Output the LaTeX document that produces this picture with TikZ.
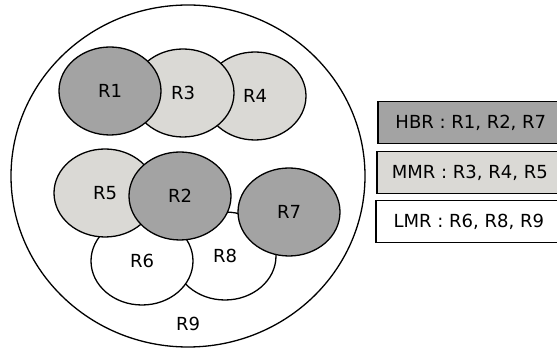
\documentclass[tikz,border=0pt]{standalone}
\usepackage{fontspec}
\setmainfont{DejaVu Sans}
\usepackage{tikz}
\usetikzlibrary{shapes.geometric}

\definecolor{high}{RGB}{163,163,163}
\definecolor{mid}{RGB}{218,217,213}

\begin{document}
\begin{tikzpicture}[x=1pt, y=-1pt,
    every node/.style={font=\fontsize{18}{20}\selectfont},
    region/.style={ellipse, draw, line width=1.3pt, inner sep=0pt,
        minimum width=102pt, minimum height=88pt},
    legend/.style={rectangle, draw, line width=1.6pt, anchor=west,
        minimum width=186pt, minimum height=42pt,
        font=\fontsize{18}{20}\selectfont}]
    \useasboundingbox (0,0) rectangle (557,352);
    % outer region
    \node[region, minimum width=354pt, minimum height=342pt] (r9) at (188,176) {};
    \node (r9label) at (188,324) {R9};
    % upper row
    \node[region, fill=mid] (r4) at (255,96) {R4};
    \node[region, fill=mid] (r3) at (183,93) {R3};
    \node[region, fill=high] (r1) at (110,91) {R1};
    % lower group
    \node[region, fill=white] (r8) at (225,256) {R8};
    \node[region, fill=white] (r6) at (142,261) {R6};
    \node[region, fill=mid] (r5) at (105,193) {R5};
    \node[region, fill=high] (r2) at (180,196) {R2};
    \node[region, fill=high] (r7) at (289,212) {R7};
    % legend
    \node[legend, fill=high] (hbr) at (377,122.5) {HBR : R1, R2, R7};
    \node[legend, fill=mid] (mmr) at (376,172.5) {MMR : R3, R4, R5};
    \node[legend, fill=white] (lmr) at (375,221.5) {LMR : R6, R8, R9};
\end{tikzpicture}
\end{document}
